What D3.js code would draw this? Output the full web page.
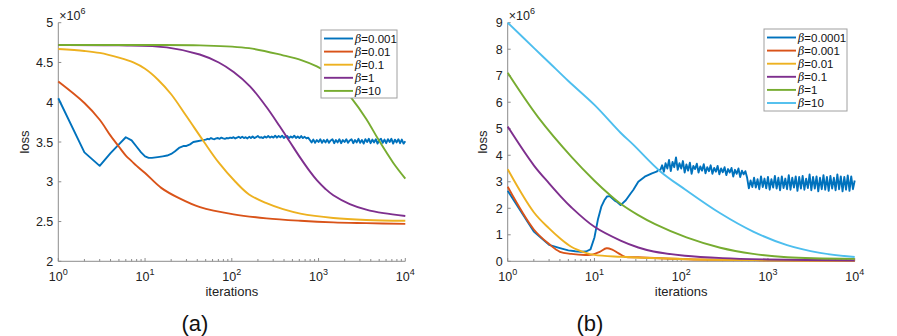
<!DOCTYPE html>
<html><head><meta charset="utf-8">
<script src="https://cdn.jsdelivr.net/npm/d3@7"></script>
<style>body{margin:0;background:#fff}svg{display:block;font-family:"Liberation Sans",Arial,sans-serif}</style>
</head><body><svg id="c" width="897" height="336"></svg>
<script>
// ---------- DATA ----------
const colors = ["#0072BD","#D95319","#EDB120","#7E2F8E","#77AC30","#4DBEEE"];
const xTickExps = [0,1,2,3,4];
const yTicksA = [2,2.5,3,3.5,4,4.5,5];
const yTicksB = [0,1,2,3,4,5,6,7,8,9];
const legendA = ["0.001","0.01","0.1","1","10"];
const legendB = ["0.0001","0.001","0.01","0.1","1","10"];

// panel (a) series: [iteration, loss ×10^6]
const a_b0001 = [[1,4.05],[2,3.37],[3,3.20],[4,3.36],[5,3.47],[6,3.56],[7,3.52],[8,3.44],[9,3.37],[10,3.32],[11,3.30],[12,3.30],[14,3.31],[16,3.32],[18,3.33],[20,3.35],[22,3.38],[25,3.43],[28,3.45],[30,3.45],[33,3.47],[36,3.50],[40,3.51],[45,3.52]];
const a_b0001_tail = [3.53,3.54,3.535,3.55,3.54,3.535,3.545,3.55,3.54,3.555,3.545,3.54,3.55,3.545,3.555,
 3.55,3.56,3.545,3.555,3.565,3.55,3.565,3.55,3.56,3.545,3.565,3.55,3.57,3.55,3.56,3.575,3.555,3.56,3.55,3.57,3.555,3.575,3.555,3.57,3.555,
 3.58,3.555,3.575,3.56,3.58,3.55,3.57,3.575,3.55,3.57,3.555,3.58,3.55,3.57,3.55,3.575,3.55,3.565,3.545,3.555,
 3.525,3.495,3.53,3.49,3.525,3.50,3.535,3.49,3.525,3.495,
 3.53,3.49,3.52,3.535,3.485,3.525,3.495,3.535,3.485,3.525,
 3.50,3.535,3.49,3.52,3.535,3.485,3.525,3.495,3.54,3.49,
 3.525,3.48,3.535,3.50,3.54,3.485,3.53,3.495,3.535,3.48,
 3.525,3.54,3.49,3.53,3.485,3.535,3.50,3.54,3.48,3.53,
 3.495,3.535,3.485,3.53,3.48,3.51];
const a_b001 = [[1,4.26],[2,3.99],[3,3.78],[4,3.58],[5,3.44],[6,3.33],[7,3.26],[8,3.20],[10,3.11],[15.5,2.92],[25,2.79],[43,2.68],[105,2.59],[251,2.54],[617,2.51],[1480,2.49],[3550,2.48],[10000,2.47]];
const a_b01 = [[1,4.67],[2,4.645],[3,4.62],[5,4.56],[7.33,4.50],[10,4.42],[14.2,4.28],[20,4.10],[30.2,3.82],[47.9,3.50],[70.8,3.24],[110,3.00],[158,2.84],[251,2.73],[389,2.655],[617,2.60],[1479,2.545],[3548,2.52],[10000,2.51]];
const a_b1 = [[1,4.72],[5,4.715],[17.8,4.69],[42.7,4.60],[70.8,4.50],[105,4.38],[162,4.20],[251,3.94],[355,3.70],[468,3.50],[617,3.30],[794,3.13],[955,3.02],[1202,2.91],[1479,2.83],[2291,2.72],[3548,2.65],[5623,2.605],[10000,2.57]];
const a_b10 = [[1,4.72],[10,4.72],[43,4.715],[158,4.68],[389,4.59],[631,4.53],[955,4.45],[1479,4.32],[2291,4.08],[3548,3.79],[4898,3.53],[7244,3.24],[10000,3.04]];

// panel (b) series
const b_b00001 = [[1,2.66],[2,1.12],[3,0.62],[4,0.50],[5,0.41],[6,0.38],[7,0.36],[8,0.37],[9,0.45],[10,0.90],[11,1.60],[12,2.06],[13,2.30],[14,2.45],[15,2.46],[16,2.38],[17,2.30],[18,2.25],[20,2.12],[23,2.30],[26,2.55],[28,2.69],[32,3.00],[38,3.19],[46,3.32],[52,3.38],[55,3.45]];
const b_b00001_tail = [3.45,3.62,3.38,3.70,3.50,3.82,3.40,3.75,3.55,3.92,3.45,3.70,
 3.50,3.78,3.35,3.65,3.42,3.72,3.30,3.60,3.48,3.68,3.35,3.58,3.42,3.66,3.32,3.55,3.40,3.62,3.30,3.52,
 3.38,3.60,3.28,3.50,3.36,3.55,3.25,3.48,3.35,3.52,3.20,3.45,3.30,3.50,3.18,3.42,3.28,3.40,3.15,2.75,
 3.05,2.80,3.15,2.78,3.10,2.72,3.20,2.80,3.12,2.75,
 3.18,2.70,3.10,2.78,3.22,2.74,3.15,2.68,3.20,2.76,
 3.12,2.72,3.25,2.70,3.15,2.78,3.20,2.66,3.18,2.74,
 3.22,2.70,3.12,2.76,3.28,2.68,3.18,2.74,3.20,2.64,
 3.15,2.72,3.25,2.70,3.18,2.66,3.22,2.74,3.15,2.68,
 3.28,2.72,3.20,2.64,3.18,2.70,3.24,2.66,3.20,2.72,3.05];
const b_b0001 = [[1,2.81],[2,1.20],[3,0.65],[4,0.36],[5.4,0.28],[7.8,0.24],[9.4,0.25],[11.5,0.36],[13.8,0.49],[15.8,0.45],[19,0.30],[22.6,0.17],[32,0.15],[120,0.08],[1000,0.04],[10000,0.02]];
const b_b001 = [[1,3.47],[2,1.85],[3,1.24],[4,0.87],[5.4,0.55],[7.8,0.33],[10,0.24],[20,0.17],[120,0.08],[1000,0.04],[10000,0.02]];
const b_b01 = [[1,5.08],[2,3.62],[3,2.94],[4,2.48],[5.4,2.04],[10,1.30],[20,0.78],[32,0.52],[48,0.37],[110,0.21],[300,0.12],[1000,0.07],[10000,0.03]];
const b_b1 = [[1,7.11],[2.25,5.43],[5.5,3.92],[10,3.04],[15.1,2.50],[20.4,2.15],[31.6,1.75],[50,1.40],[115,0.90],[282,0.51],[676,0.28],[1660,0.15],[10000,0.09]];
const b_b10 = [[1,9.0],[2,8.05],[3,7.5],[5,6.8],[10,5.9],[20,4.85],[28,4.4],[57,3.4],[112,2.7],[282,1.81],[676,1.12],[1660,0.61],[3980,0.32],[10000,0.16]];

// ---------- DRAW ----------
const svg = d3.select("#c");
const axisGray = "#8c8c8c";

function withTail(head, tail, lxStart){
  return head.concat(tail.map((v,i)=>[Math.pow(10, lxStart + i*0.02), v]));
}

function panel(o){
  const g = svg.append("g");
  const x = d3.scaleLog().domain([1,10000]).range([o.x0, o.x1]);
  const y = d3.scaleLinear().domain(o.yDom).range([261.3, 22.7]);
  g.append("line").attr("x1",o.x0).attr("x2",o.x1).attr("y1",261.3).attr("y2",261.3).attr("stroke",axisGray).attr("stroke-width",1);
  g.append("line").attr("x1",o.x0).attr("x2",o.x0).attr("y1",22.7).attr("y2",261.3).attr("stroke",axisGray).attr("stroke-width",1);
  const minor = [];
  for (let e=0;e<4;e++) for (let k=2;k<=9;k++) minor.push(k*Math.pow(10,e));
  g.selectAll(".mn").data(minor).join("line").attr("x1",d=>x(d)).attr("x2",d=>x(d)).attr("y1",261.3).attr("y2",259).attr("stroke",axisGray);
  const major = xTickExps.map(e=>Math.pow(10,e));
  g.selectAll(".mj").data(major).join("line").attr("x1",d=>x(d)).attr("x2",d=>x(d)).attr("y1",261.3).attr("y2",258).attr("stroke",axisGray);
  const xl = g.selectAll(".xl").data(xTickExps).join("text").attr("x",d=>x(Math.pow(10,d))).attr("y",281).attr("text-anchor","middle").attr("font-size",12.5).attr("fill","#222");
  xl.append("tspan").text("10");
  xl.append("tspan").attr("dy",-6).attr("font-size",9).text(d=>d);
  g.selectAll(".yt").data(o.yTicks).join("line").attr("x1",o.x0).attr("x2",o.x0+3).attr("y1",d=>y(d)).attr("y2",d=>y(d)).attr("stroke",axisGray);
  g.selectAll(".yl").data(o.yTicks).join("text").attr("x",o.x0-5).attr("y",d=>y(d)+4.5).attr("text-anchor","end").attr("font-size",12.5).attr("fill","#222").text(d=>d);
  const ex = g.append("text").attr("x",o.x0+1).attr("y",20).attr("font-size",12.5).attr("fill","#222");
  ex.append("tspan").text("\u00d710");
  ex.append("tspan").attr("dy",-6).attr("font-size",9).text("6");
  g.append("text").attr("transform",`translate(${o.lossX},142) rotate(-90)`).attr("text-anchor","middle").attr("font-size",13).attr("fill","#222").text("loss");
  g.append("text").attr("x",(o.x0+o.x1)/2).attr("y",296).attr("text-anchor","middle").attr("font-size",13).attr("fill","#222").text("iterations");
  g.append("text").attr("x",o.capX).attr("y",331).attr("text-anchor","middle").attr("font-size",22).attr("fill","#111").text(o.cap);
  const smooth = d3.line().x(d=>x(d[0])).y(d=>y(d[1])).curve(d3.curveCatmullRom.alpha(0.5));
  const straight = d3.line().x(d=>x(d[0])).y(d=>y(d[1]));
  o.series.forEach((s,i)=>{
    g.append("path").attr("d",(i===0?straight:smooth)(s)).attr("fill","none").attr("stroke",o.colors[i]).attr("stroke-width",1.9).attr("stroke-linejoin","round");
  });
  const L = o.leg;
  g.append("rect").attr("x",L.x).attr("y",L.y).attr("width",L.w).attr("height",L.h).attr("fill","#fff").attr("stroke","#a0a0a0").attr("stroke-width",1);
  o.legend.forEach((t,i)=>{
    const yy = L.y + 8.5 + i*13.1;
    g.append("line").attr("x1",L.x+3).attr("x2",L.x+32).attr("y1",yy).attr("y2",yy).attr("stroke",o.colors[i]).attr("stroke-width",1.9);
    const tx = g.append("text").attr("x",L.x+34).attr("y",yy+4).attr("font-size",11.5).attr("fill","#111");
    tx.append("tspan").attr("font-style","italic").attr("font-family","'DejaVu Serif',serif").attr("font-size",11).text("\u03b2");
    tx.append("tspan").text("="+t);
  });
}

panel({x0:58.3,x1:405.3,yDom:[2,5],yTicks:yTicksA,cap:"(a)",capX:195,lossX:29,
  series:[withTail(a_b0001,a_b0001_tail,1.70),a_b001,a_b01,a_b1,a_b10],
  colors:colors.slice(0,5),legend:legendA,leg:{x:321,y:30,w:76,h:68}});
panel({x0:507.7,x1:854.7,yDom:[0,9],yTicks:yTicksB,cap:"(b)",capX:590,lossX:487,
  series:[withTail(b_b00001,b_b00001_tail,1.76),b_b0001,b_b001,b_b01,b_b1,b_b10],
  colors:colors,legend:legendB,leg:{x:764,y:29,w:83,h:82}});
</script></body></html>
